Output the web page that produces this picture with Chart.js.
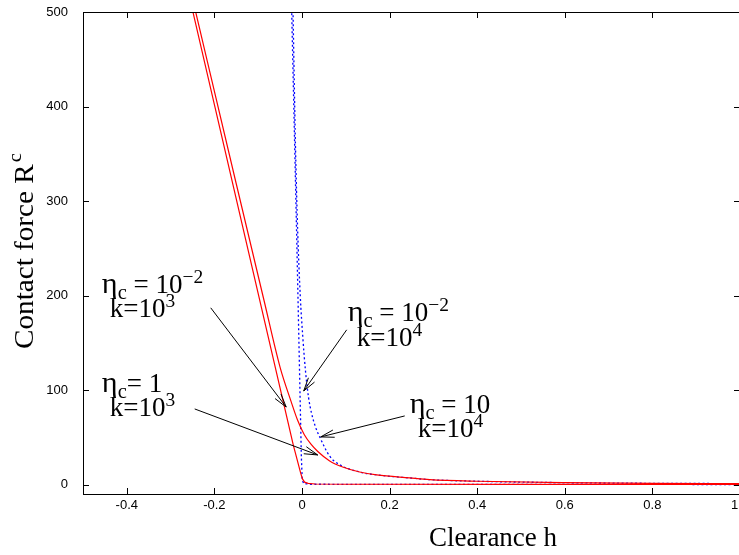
<!DOCTYPE html>
<html>
<head>
<meta charset="utf-8">
<script src="https://cdn.jsdelivr.net/npm/chart.js@4.4.1/dist/chart.umd.min.js"></script>
<style>
  html, body { margin: 0; padding: 0; background: #fff; overflow: hidden; width: 739px; height: 555px; }
  #wrap { position: relative; width: 760px; height: 555px; }
</style>
</head>
<body>
<div id="wrap"><canvas id="c" width="760" height="555"></canvas></div>
<script>
// values: clearance h  ->  contact force R^c
const hRedEta2 = [-0.26, -0.2, -0.1, -0.05, -0.02, -0.003, 0.001, 0.006, 0.014, 0.03, 0.1, 0.5, 1.0];
const rRedEta2 = [522, 402, 202, 102, 42, 12, 6, 2.5, 1.2, 0.6, 0.3, 0.1, 0.05];

const hRedEta1 = [-0.26, -0.2427, -0.15, -0.0868, -0.05, -0.025, -0.01, 0.005, 0.02, 0.036, 0.0632, 0.0929, 0.1317, 0.1705, 0.2459, 0.2916, 0.4, 0.6, 0.8, 1.0];
const rRedEta1 = [534, 500, 318, 195, 124, 88, 68, 53, 43, 35, 25, 18.6, 13.3, 10.2, 7, 5.2, 3.5, 2, 1.3, 1];

const hBlueEta2 = [-0.025, -0.0235, -0.012, -0.0015, 0.0005, 0.004, 0.02, 1.0];
const rBlueEta2 = [532, 500, 260, 30, 5, 1, 0.3, 0.05];

const hBlueEta10 = [-0.0215, -0.0205, -0.015, -0.01, -0.004, 0.002, 0.008, 0.015, 0.0215, 0.03, 0.0404, 0.0632, 0.086, 0.1317, 0.1705, 0.2459, 0.2916, 0.4, 0.6, 0.8, 1.0];
const rBlueEta10 = [525, 500, 360, 270, 200, 155, 120, 92, 76, 62, 50.4, 30, 21, 13.3, 10.2, 7, 5.2, 3.5, 2, 1.3, 1];

const xTicks = [-0.4, -0.2, 0, 0.2, 0.4, 0.6, 0.8, 1];
const yTicks = [0, 100, 200, 300, 400, 500];

// annotation arrows, in data units: [h, R] tail -> head
const arrows = [
  { from: [-0.2084, 187], to: [-0.0361, 82] },
  { from: [-0.245, 80],   to: [0.0358, 31.3] },
  { from: [0.102, 163.7], to: [0.0039, 99] },
  { from: [0.2345, 72.6], to: [0.0427, 50.4] }
];

// labels: each line anchored at [h, R] (left end, baseline)
const labels = [
  { at: [-0.457, 202.7], parts: [['η', 'sym'], ['c', 'sub'], [' = 10'], ['−2', 'sup']] },
  { at: [-0.439, 177.3], parts: [['k=10'], ['3', 'sup']] },
  { at: [-0.457, 98],    parts: [['η', 'sym'], ['c', 'sub'], ['= 1']] },
  { at: [-0.439, 72.6],  parts: [['k=10'], ['3', 'sup']] },
  { at: [0.1043, 173.1], parts: [['η', 'sym'], ['c', 'sub'], [' = 10'], ['−2', 'sup']] },
  { at: [0.1249, 146.7], parts: [['k=10'], ['4', 'sup']] },
  { at: [0.2459, 75.8],  parts: [['η', 'sym'], ['c', 'sub'], [' = 10']] },
  { at: [0.2642, 50.4],  parts: [['k=10'], ['4', 'sup']] }
];

const pts = (hs, rs) => hs.map((h, i) => ({ x: h, y: rs[i] }));

const SERIF = '"Liberation Serif", "Times New Roman", serif';
const SANS = '"Liberation Sans", Arial, sans-serif';

function richText(ctx, x, y, parts, size) {
  let cx = x;
  for (const [t, kind] of parts) {
    let fs = size, dy = 0;
    if (kind === 'sym') fs = size * 1.12;
    if (kind === 'sub') { fs = size * 0.76; dy = size * 0.22; }
    if (kind === 'sup') { fs = size * 0.72; dy = -size * 0.38; }
    ctx.font = `${fs}px ${SERIF}`;
    ctx.fillText(t, cx, y + dy);
    cx += ctx.measureText(t).width;
  }
}

const decor = {
  id: 'decor',
  afterDatasetsDraw(chart) {
    const { ctx, chartArea: { left, right, top, bottom }, scales: { x, y } } = chart;
    ctx.save();
    ctx.strokeStyle = '#000';
    ctx.lineWidth = 1;
    // frame
    ctx.strokeRect(Math.round(left) + 0.5, Math.round(top) + 0.5, Math.round(right - left), Math.round(bottom - top));
    // inward ticks, mirrored
    const T = 6;
    ctx.beginPath();
    xTicks.forEach(v => {
      const px = Math.round(x.getPixelForValue(v)) + 0.5;
      ctx.moveTo(px, bottom); ctx.lineTo(px, bottom - T);
      ctx.moveTo(px, top); ctx.lineTo(px, top + T);
    });
    yTicks.forEach(v => {
      const py = Math.round(y.getPixelForValue(v)) + 0.5;
      ctx.moveTo(left, py); ctx.lineTo(left + T, py);
      ctx.moveTo(right, py); ctx.lineTo(right - T, py);
    });
    ctx.stroke();

    // arrows
    arrows.forEach(a => {
      const x0 = x.getPixelForValue(a.from[0]), y0 = y.getPixelForValue(a.from[1]);
      const x1 = x.getPixelForValue(a.to[0]),   y1 = y.getPixelForValue(a.to[1]);
      const ang = Math.atan2(y1 - y0, x1 - x0);
      const L = 14, W = 0.27;
      ctx.beginPath();
      ctx.moveTo(x0, y0); ctx.lineTo(x1, y1);
      ctx.moveTo(x1 - L * Math.cos(ang - W), y1 - L * Math.sin(ang - W));
      ctx.lineTo(x1, y1);
      ctx.lineTo(x1 - L * Math.cos(ang + W), y1 - L * Math.sin(ang + W));
      ctx.stroke();
    });

    // labels
    ctx.fillStyle = '#000';
    ctx.textBaseline = 'alphabetic';
    ctx.textAlign = 'left';
    labels.forEach(l => {
      richText(ctx, x.getPixelForValue(l.at[0]), y.getPixelForValue(l.at[1]), l.parts, 27);
    });

    // axis titles
    ctx.textAlign = 'center';
    ctx.font = `27px ${SERIF}`;
    ctx.fillText('Clearance h', 493, 546);

    ctx.translate(33, 251);
    ctx.rotate(-Math.PI / 2);
    ctx.scale(1.08, 1);
    ctx.font = `27px ${SERIF}`;
    const main = 'Contact force R';
    const wMain = ctx.measureText(main).width;
    ctx.font = `19px ${SERIF}`;
    const wSup = ctx.measureText('c').width;
    const start = -(wMain + wSup + 2) / 2;
    ctx.textAlign = 'left';
    ctx.font = `27px ${SERIF}`;
    ctx.fillText(main, start, 0);
    ctx.font = `19px ${SERIF}`;
    ctx.fillText('c', start + wMain + 2, -12);
    ctx.restore();
  }
};

new Chart(document.getElementById('c'), {
  type: 'scatter',
  data: {
    datasets: [
      { label: 'eta=1e-2, k=1e3', data: pts(hRedEta2, rRedEta2), showLine: true, borderColor: '#ff0000', borderWidth: 1.2, pointRadius: 0, tension: 0 },
      { label: 'eta=1, k=1e3', data: pts(hRedEta1, rRedEta1), showLine: true, borderColor: '#ff0000', borderWidth: 1.2, pointRadius: 0, cubicInterpolationMode: 'monotone' },
      { label: 'eta=1e-2, k=1e4', data: pts(hBlueEta2, rBlueEta2), showLine: true, borderColor: '#0000ff', borderWidth: 1.3, borderDash: [2, 2.5], pointRadius: 0, tension: 0 },
      { label: 'eta=10, k=1e4', data: pts(hBlueEta10, rBlueEta10), showLine: true, borderColor: '#0000ff', borderWidth: 1.3, borderDash: [2, 2.5], pointRadius: 0, cubicInterpolationMode: 'monotone' }
    ]
  },
  options: {
    responsive: false,
    animation: false,
    layout: { padding: { top: 12, right: 20, left: 0, bottom: 0 } },
    plugins: { legend: { display: false }, tooltip: { enabled: false } },
    scales: {
      x: {
        type: 'linear', min: -0.5, max: 1,
        afterBuildTicks: s => { s.ticks = xTicks.map(v => ({ value: v })); },
        afterFit: s => { s.height = 61; s.paddingLeft = 0; s.paddingRight = 0; },
        grid: { display: false, drawTicks: false }, border: { display: false },
        ticks: { color: '#000', padding: 4, maxRotation: 0, autoSkip: false, font: { family: SANS, size: 13 } }
      },
      y: {
        type: 'linear', min: -10, max: 500,
        afterBuildTicks: s => { s.ticks = yTicks.map(v => ({ value: v })); },
        afterFit: s => { s.width = 83; s.paddingTop = 0; s.paddingBottom = 0; },
        grid: { display: false, drawTicks: false }, border: { display: false },
        ticks: { color: '#000', padding: 15, autoSkip: false, font: { family: SANS, size: 13 } }
      }
    }
  },
  plugins: [decor]
});
</script>
</body>
</html>
